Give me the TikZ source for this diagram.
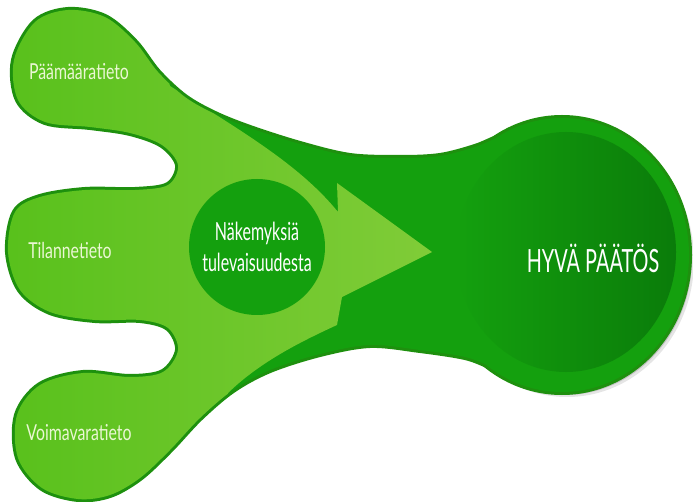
\documentclass[tikz,border=0pt]{standalone}
\usepackage{fontspec}
\usetikzlibrary{shapes.geometric}
\newfontfamily\lobefont[FakeStretch=0.72]{Lato}
\newfontfamily\viewfont[FakeStretch=0.64]{Lato}
\newfontfamily\goalfont[FakeStretch=0.62]{Lato}
\definecolor{rimgreen}{HTML}{1E900E}
\definecolor{midgreen}{HTML}{14A00E}
\definecolor{deepgreen}{HTML}{0A7C0A}
\definecolor{lobegreen}{HTML}{56C01A}
\definecolor{arrowgreen}{HTML}{80CC38}
\definecolor{labelcream}{HTML}{EAF7D4}
\tikzset{
    lobelabel/.style = {
        font=\lobefont\fontsize{22}{24}\selectfont,
        text=labelcream},
    viewdisc/.style = {
        shape=circle,
        fill=midgreen,
        minimum size=136pt,
        inner sep=0pt,
        align=center,
        text=white,
        font=\viewfont\fontsize{25}{31}\selectfont},
    goaldisc/.style = {
        shape=ellipse,
        minimum width=220pt,
        minimum height=240pt,
        left color=midgreen,
        right color=deepgreen},
    goallabel/.style = {
        text=white,
        font=\goalfont\fontsize{32}{34}\selectfont}
}

\begin{document}
\begin{tikzpicture}[
    x                       = 1pt,
    y                       = -1pt,
    every node/.style       = {inner sep=0pt}
]
\useasboundingbox (0,0) rectangle (693,502);

% outline of the blob with its three lobes
\path[save path=\blobpath] plot[smooth cycle, tension=0.55] coordinates {
    (14,60) (35,22) (68,10) (105,17) (135,42) (158,72) (185,97)
    (215,114) (250,128) (300,144) (350,156) (400,158) (440,156)
    (475,147) (500,137) (522,134) (560,170) (590,250) (560,330)
    (515,374) (490,366) (465,357) (420,350) (370,345) (320,354)
    (270,370) (233,390) (200,418) (170,450) (140,478) (110,495)
    (78,499) (42,488) (18,458) (17,415) (40,385) (83,373) (130,377)
    (163,372) (178,350) (168,328) (140,320) (95,320) (50,312)
    (20,290) (8,252) (15,212) (40,197) (85,190) (135,190) (168,185)
    (178,165) (162,145) (130,133) (90,127) (45,122) (18,100)};

% soft shadow
\foreach \d/\o in {5/0.10, 3/0.15, 1/0.2} {
    \begin{scope}[shift={(\d,\d)}]
        \fill[black, opacity=\o, use path=\blobpath];
        \fill[black, opacity=\o] (562,255) ellipse[x radius=127, y radius=137];
    \end{scope}
}

% rim and body
\draw[rimgreen, line width=6pt, use path=\blobpath];
\draw[rimgreen, line width=6pt] (562,255) ellipse[x radius=127, y radius=137];
\fill[midgreen, use path=\blobpath];
\fill[midgreen] (562,255) ellipse[x radius=127, y radius=137];

% light arrow
\begin{scope}
    \clip[use path=\blobpath];
    \shade[left color=lobegreen, right color=arrowgreen]
        (-20,-20) -- (140,-20) -- (170,86)
        .. controls (240,130) and (300,165) .. (338,212)
        -- (337,183) -- (432,252) -- (342,297) -- (337,325)
        .. controls (300,342) and (260,362) .. (228,393)
        -- (190,520) -- (-20,520) -- cycle;
\end{scope}

% discs and labels
\node[viewdisc] (view) at (257,247) {N\"akemyksi\"a\\tulevaisuudesta};
\node[goaldisc] (goal) at (566,252) {};
\node[goallabel] (decision) at (593,258) {HYV\"A P\"A\"AT\"OS};

\node[lobelabel] (goalinfo)     at (79,72)  {P\"a\"am\"a\"aratieto};
\node[lobelabel] (stateinfo)    at (70,250) {Tilannetieto};
\node[lobelabel] (resourceinfo) at (79,433) {Voimavaratieto};

\end{tikzpicture}
\end{document}
